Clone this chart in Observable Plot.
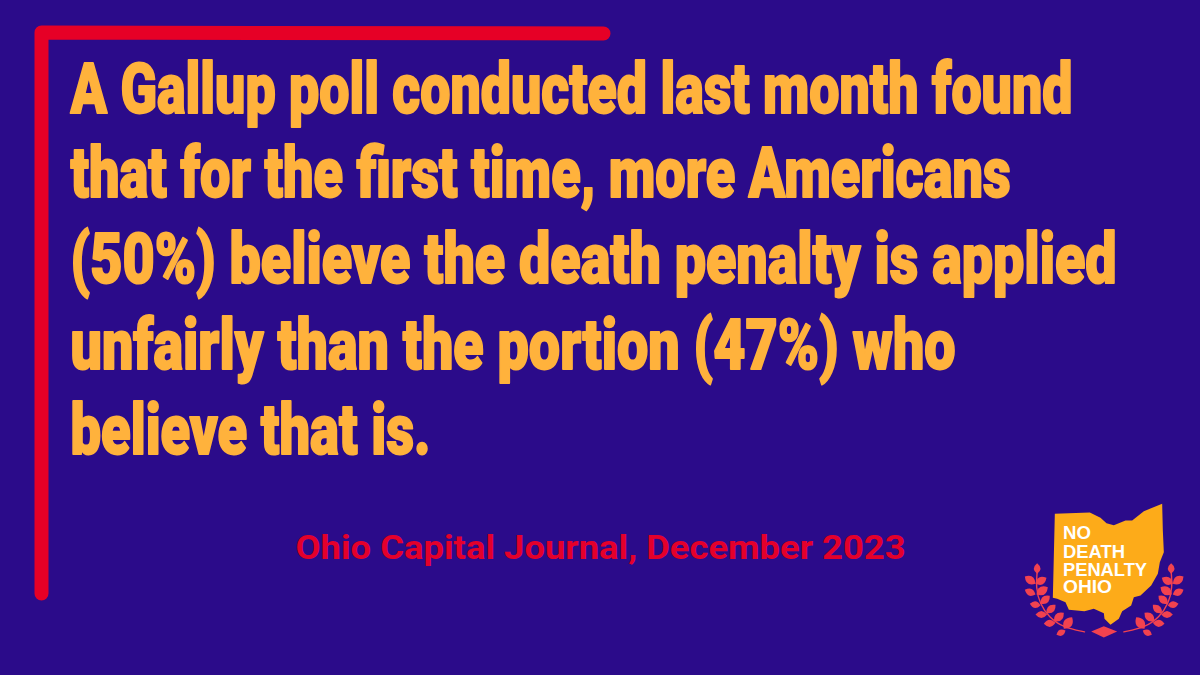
<!DOCTYPE html>
<html><head><meta charset="utf-8">
<script src="https://cdn.jsdelivr.net/npm/d3@7"></script>
<script src="https://cdn.jsdelivr.net/npm/@observablehq/plot@0.6"></script>
<style>html,body{margin:0;padding:0;background:#2b0b8a;overflow:hidden}svg{display:block}</style>
</head><body><div id="c"></div>
<script>
const headlineLines = ["A Gallup poll conducted last month found","that for the first time, more Americans","(50%) believe the death penalty is applied","unfairly than the portion (47%) who","believe that is."];
const headlineY = [90,174,260,346,431];
const headlineWidth = [1002,940,1046,885,360];
const sourceText = ["Ohio Capital Journal, December 2023"];
const logoLines = ["NO","DEATH","PENALTY","OHIO"];
const logoY = [533,552,569.5,587];
const logoWidth = [28,62,84,49];
const ohioZ = [[163,70],[268,66],[300,82],[318,98],[340,104],[375,90],[395,90],[430,62],[485,40],[487,120],[490,185],[478,215],[472,250],[452,285],[420,315],[400,320],[392,345],[365,362],[355,385],[330,403],[312,385],[310,368],[280,355],[252,362],[205,358],[195,335],[170,325],[157,322]];
const diamondZ = [[272,423],[310,407],[350,423],[310,441]];
const stemZ = [[110,245],[106,290],[118,340],[145,380],[190,412],[252,424]];
const leavesZ = [[110,250,110,218],[105,280,73,258],[105,280,138,262],[105,312,73,298],[108,312,142,290],[120,345,88,340],[120,340,148,316],[140,372,105,372],[138,368,165,343],[165,397,130,400],[160,392,190,367],[195,420,168,433],[190,415,215,380]];
const logoPt = ([x,y]) => [1000+x/3, 490+y/3];
const mirror = ([x,y]) => [622-x,y];
const leaf = {draw(ctx,l,r){ctx.moveTo(0,0);ctx.quadraticCurveTo(l*0.62,-l*0.5,0,-l);ctx.quadraticCurveTo(-l*0.62,-l*0.5,0,0);ctx.closePath();}};
const allLeaves = leavesZ.flatMap(([a,b,c,d])=>[[[a,b],[c,d]],[mirror([a,b]),mirror([c,d])]]).map(([p,q])=>{
  const [x,y]=logoPt(p),[x2,y2]=logoPt(q);
  return {x,y,len:Math.hypot(x2-x,y2-y),rot:Math.atan2(x2-x,-(y2-y))*180/Math.PI};
});
const rows = headlineLines.map((t,i)=>({t,x:70,y:headlineY[i],w:headlineWidth[i]}));
const logoRows = logoLines.map((t,i)=>({t,x:1062.5,y:logoY[i],w:logoWidth[i]}));
const srcRows = sourceText.map(t=>({t,x:295,y:548,w:610}));
const plot = Plot.plot({width:1200,height:675,margin:0,
 x:{type:"identity",axis:null},y:{type:"identity",axis:null},length:{type:"identity"},
 style:{background:"#2b0b8a"},
 marks:[
  Plot.line([[41,593],[41,32],[603,33]],{stroke:"#e60026",strokeWidth:14,strokeLinecap:"round",strokeLinejoin:"round"}),
  Plot.text(rows,{x:"x",y:"y",text:"t",textAnchor:"start",fill:"#ffb23c",stroke:"#ffb23c",strokeWidth:2,fontFamily:"Roboto",fontWeight:900,fontSize:71,lineAnchor:"middle",className:"fit"}),
  Plot.text(srcRows,{x:"x",y:"y",text:"t",textAnchor:"start",fill:"#e4002b",fontFamily:"Roboto",fontWeight:700,fontSize:33,className:"fit"}),
  Plot.line(ohioZ.map(logoPt),{fill:"#fdab19",stroke:"none",curve:"linear-closed"}),
  Plot.text(logoRows,{x:"x",y:"y",text:"t",textAnchor:"start",fill:"#fff",fontFamily:"Liberation Sans",fontWeight:700,fontSize:18,className:"fit"}),
  Plot.line(stemZ.map(logoPt),{stroke:"#f2424f",strokeWidth:1.4,curve:"basis"}),
  Plot.line(stemZ.map(mirror).map(logoPt),{stroke:"#f2424f",strokeWidth:1.4,curve:"basis"}),
  Plot.line(diamondZ.map(logoPt),{fill:"#f2424f",stroke:"none",curve:"linear-closed"}),
  Plot.vector(allLeaves,{x:"x",y:"y",length:"len",rotate:"rot",anchor:"start",shape:leaf,fill:"#f2424f",stroke:"none"})
 ]});
document.getElementById("c").append(plot);
const fitData = [...rows,...srcRows,...logoRows];
function fitAll(){
  for (const el of plot.querySelectorAll(".fit text")) {
    const d = fitData.find(r=>r.t===el.textContent);
    if (!d) continue;
    const base = el.dataset.base ?? (el.dataset.base = el.getAttribute("transform") || "");
    el.setAttribute("transform", `${base} scale(${d.w/el.getComputedTextLength()},1)`);
  }
}
fitAll();
if (document.fonts && document.fonts.ready) document.fonts.ready.then(fitAll);
</script></body></html>
